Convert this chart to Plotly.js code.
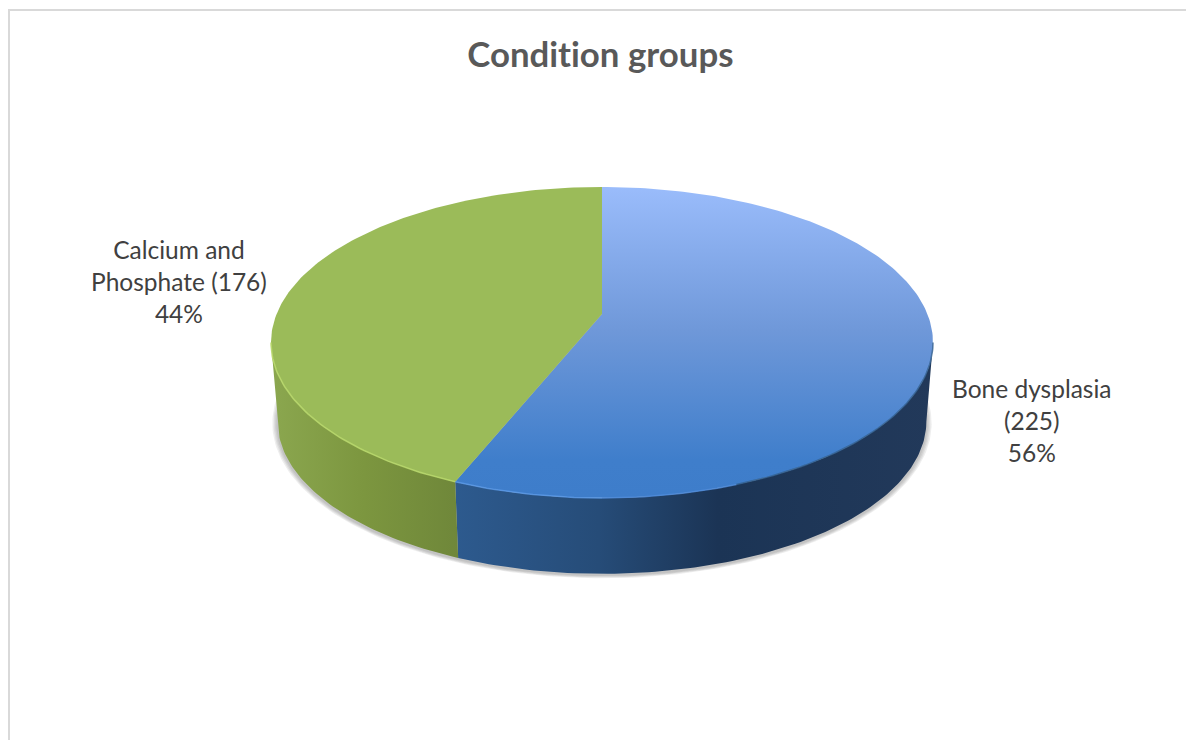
<!DOCTYPE html>
<html>
<head>
<meta charset="utf-8">
<script src="https://cdn.plot.ly/plotly-3.0.1.min.js"></script>
<style>
html,body{margin:0;padding:0;background:#fff}
#chart{width:1186px;height:740px}
#chart text{font-variant-ligatures:none !important;font-feature-settings:"liga" 0,"clig" 0 !important}
</style>
</head>
<body>
<div id="chart"></div>
<script>
// Data
const categories = ['Bone dysplasia', 'Calcium and Phosphate'];
const counts = [225, 176];
const labelLines = [['Bone dysplasia', '(225)'], ['Calcium and', 'Phosphate (176)']];
const titleText = 'Condition groups';

// Styles (the y axis runs downwards, so vertical colour scales go bottom to top)
const topColors = [[[0, '#3e7dca'], [0.12, '#3f7ecb'], [0.54, '#6f98d9'], [1, '#9abcfb']], null];
const flatTop = [null, '#9bbb59'];
const wallColors = [
  [[0, '#2d5a8e'], [0.3, '#264c78'], [0.55, '#1b3455'], [1, '#22395a']],
  [[0, '#8ba74f'], [0.5, '#7c963f'], [1, '#6f873a']]
];
const rimColors = [['#5b9ae8', '#4f8cdc', '#33608f'], '#b9d96c'];
const labelPos = [[1032, 420], [179, 281]];

// Projection of the tilted disc onto the plot (perspective of the original 3-D pie)
const cx = 602, topY = 314, k = 0.183, a = 150.3, c = 325.4;
const depthScale = 0.98, wallY = 393.5;
const project = (deg, s, y0) => {
  const t = deg * Math.PI / 180, u = Math.sin(t), v = Math.cos(t), w = 1 + k * v;
  return [cx + s * c * u / w, y0 - s * a * v / w];
};
const arc = (d0, d1, s, y0) => {
  const n = Math.max(2, Math.ceil(Math.abs(d1 - d0) / 1));
  const xs = [], ys = [];
  for (let i = 0; i <= n; i++) {
    const p = project(d0 + (d1 - d0) * i / n, s, y0);
    xs.push(p[0]); ys.push(p[1]);
  }
  return [xs, ys];
};

const total = counts.reduce((p, q) => p + q, 0);
const limitAngle = Math.acos(-k) * 180 / Math.PI;   // silhouette points of the disc
const traces = [];
const base = {type: 'scatter', mode: 'lines', hoverinfo: 'skip', showlegend: false};

// soft shadow below the wall
[0.016, 0.012, 0.008, 0.004].forEach(e => {
  const b = arc(0, 360, depthScale + e, wallY + 1.5);
  traces.push({...base, x: b[0], y: b[1], fill: 'toself', fillcolor: 'rgba(70,70,70,0.09)', line: {width: 0}});
});

let start = 0;
const slices = counts.map(v => { const s = {d0: start, d1: start + v / total * 360}; start = s.d1; return s; });

// walls
slices.forEach((s, i) => {
  const from = Math.max(s.d0, limitAngle), to = Math.min(s.d1, 360 - limitAngle);
  const t = arc(from, to, 1, topY), b = arc(to, from, depthScale, wallY);
  traces.push({...base, x: t[0].concat(b[0]), y: t[1].concat(b[1]), fill: 'toself',
    fillcolor: wallColors[i][0][1], line: {width: 0},
    fillgradient: {type: 'horizontal', colorscale: wallColors[i]}});
});

// top faces
slices.forEach((s, i) => {
  const p = arc(s.d0, s.d1, 1, topY);
  const tr = {...base, x: [cx].concat(p[0], [cx]), y: [topY].concat(p[1], [topY]), fill: 'toself',
    line: {width: 0}, name: categories[i], hoverinfo: 'name'};
  if (topColors[i]) { tr.fillgradient = {type: 'vertical', colorscale: topColors[i]}; tr.fillcolor = topColors[i][0][1]; }
  else tr.fillcolor = flatTop[i];
  traces.push(tr);
});

// bevel rim along the front edge
slices.forEach((s, i) => {
  const from = Math.max(s.d0, limitAngle), to = Math.min(s.d1, 360 - limitAngle);
  if (Array.isArray(rimColors[i])) {
    // blue slice: rim fades from bright at the split to dark at the right edge
    const steps = [[to, to - 22, rimColors[i][0]], [to - 22, to - 42, rimColors[i][1]], [to - 42, from, rimColors[i][2]]];
    steps.forEach(st => {
      const r = arc(st[0], st[1], 1, topY);
      traces.push({...base, x: r[0], y: r[1], line: {color: st[2], width: 1.5}, opacity: 0.8});
    });
  } else {
    const r = arc(from, to, 1, topY);
    traces.push({...base, x: r[0], y: r[1], line: {color: rimColors[i], width: 1.6}, opacity: 0.85});
  }
});

const labelFont = {family: 'Lato, Carlito, sans-serif', size: 24.5, color: '#404040'};
const annotations = categories.map((cat, i) => ({
  x: labelPos[i][0], y: labelPos[i][1], xref: 'x', yref: 'y', showarrow: false,
  align: 'center', font: labelFont,
  text: labelLines[i].concat([Math.round(counts[i] / total * 100) + '%']).join('<br>')
}));

const layout = {
  width: 1186, height: 740,
  margin: {l: 0, r: 0, t: 0, b: 0},
  paper_bgcolor: '#ffffff', plot_bgcolor: '#ffffff',
  showlegend: false,
  title: {text: '<b>' + titleText + '</b>', x: 0.5062, xanchor: 'center', y: 0.926, yanchor: 'middle',
          font: {family: 'Lato, Carlito, sans-serif', size: 34.8, color: '#595959'}},
  xaxis: {range: [0, 1186], visible: false, fixedrange: true},
  yaxis: {range: [740, 0], visible: false, fixedrange: true},
  annotations,
  shapes: [
    {type: 'line', xref: 'x', yref: 'y', x0: 8, x1: 1186, y0: 10, y1: 10, line: {color: '#d9d9d9', width: 2}},
    {type: 'line', xref: 'x', yref: 'y', x0: 9, x1: 9, y0: 9, y1: 740, line: {color: '#d9d9d9', width: 2}}
  ]
};
Plotly.newPlot('chart', traces, layout, {displayModeBar: false});
</script>
</body>
</html>
